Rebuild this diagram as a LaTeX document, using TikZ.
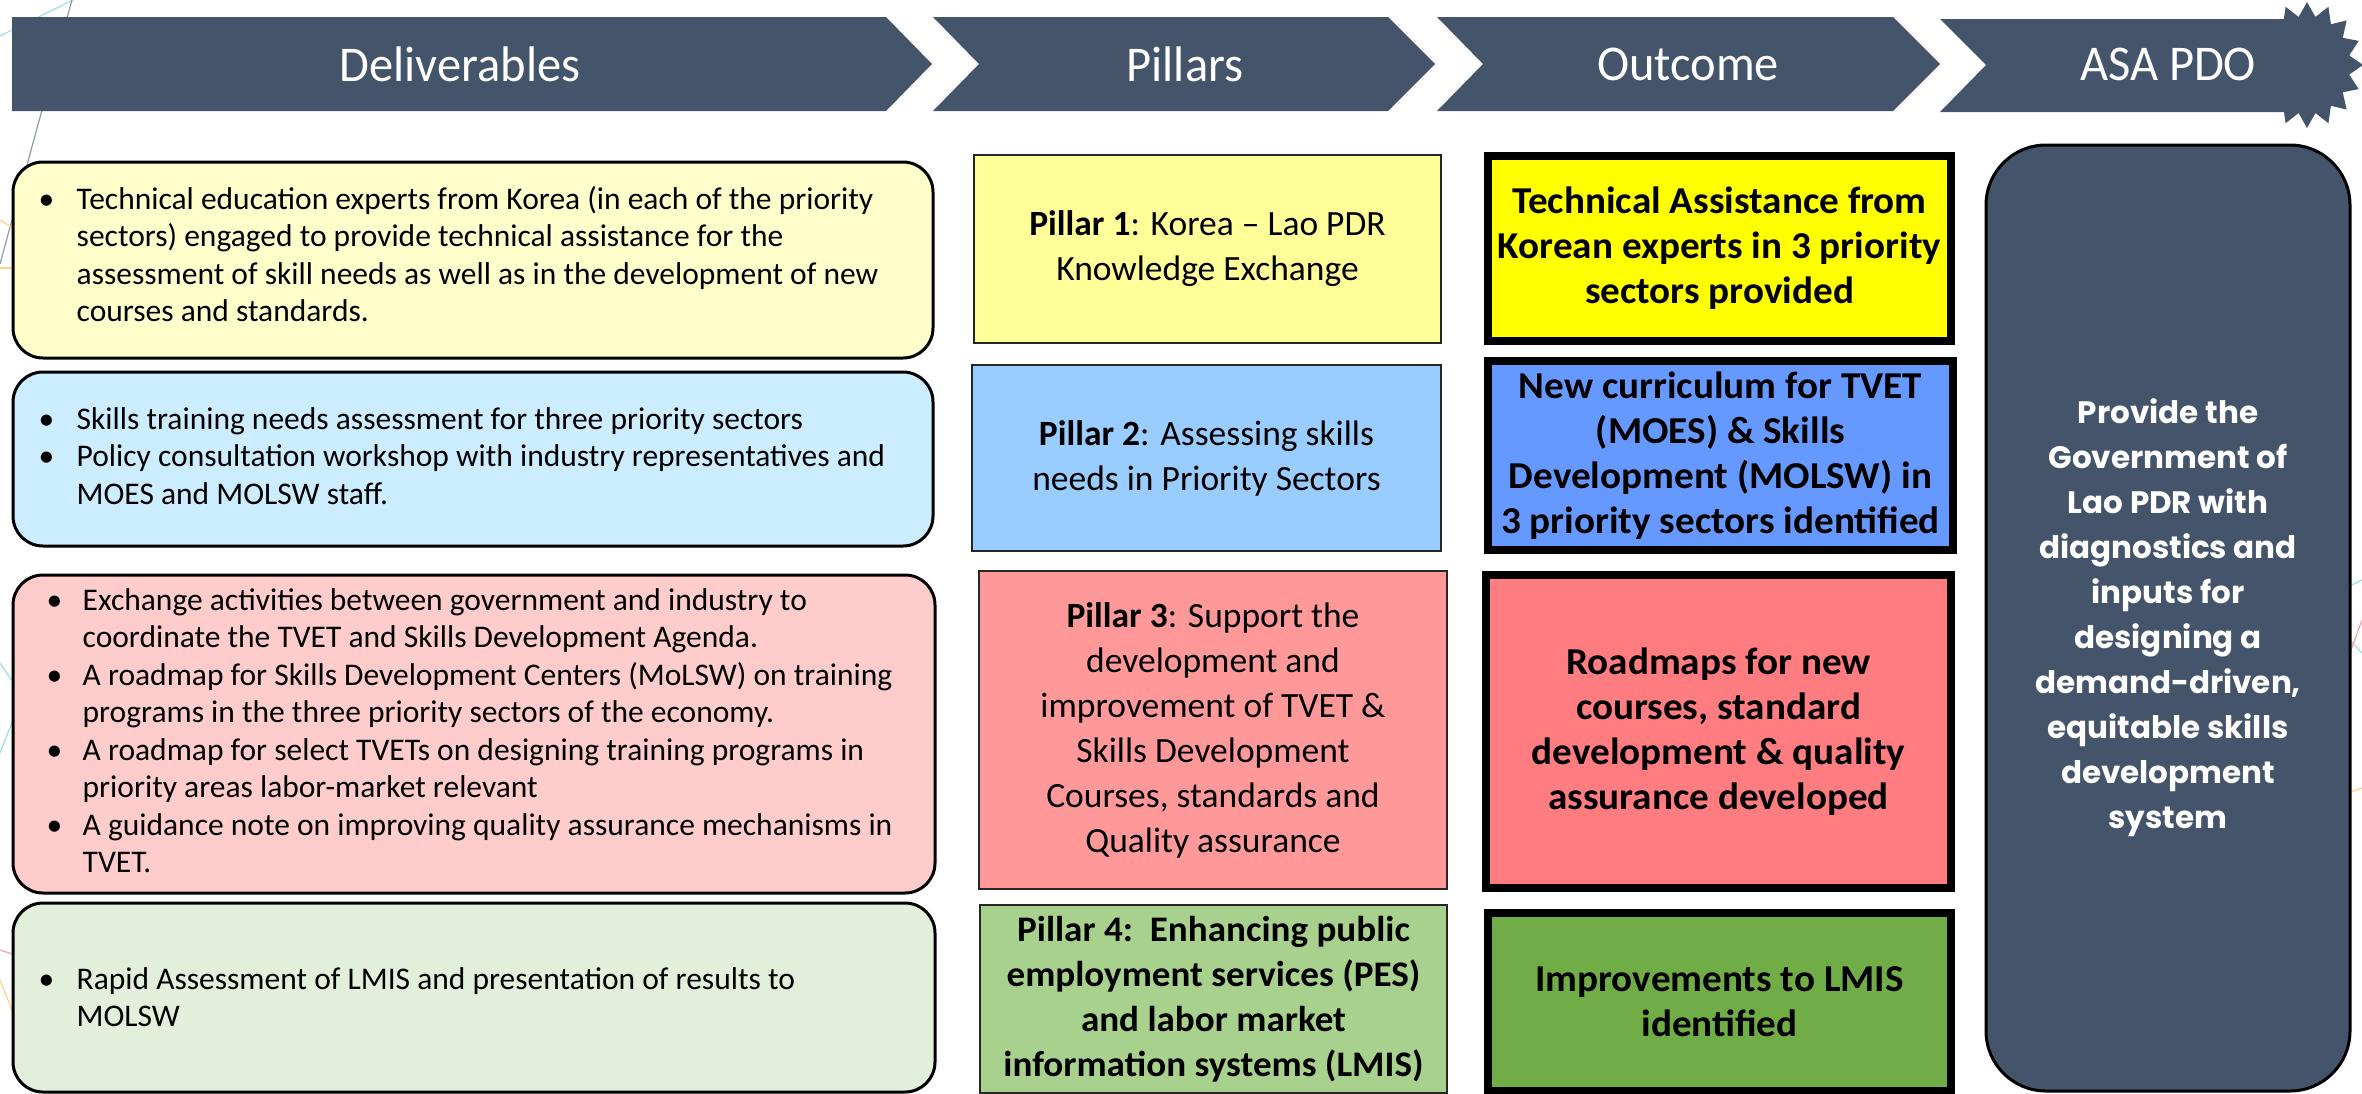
\documentclass[tikz,border=0pt]{standalone}
\usepackage{fontspec}
\setmainfont{Carlito}
\newfontfamily\outfont{Carlito}[FakeStretch=1.03]
\newfontfamily\hdrfont{Carlito}[FakeStretch=0.97]
\newfontfamily\pdofont{Poppins}
\definecolor{hdr}{HTML}{44546A}
\definecolor{dY}{HTML}{FFFFCC}
\definecolor{dB}{HTML}{CCECFF}
\definecolor{dR}{HTML}{FFCCCC}
\definecolor{dG}{HTML}{E2EFDA}
\definecolor{pY}{HTML}{FFFF99}
\definecolor{pB}{HTML}{99CCFF}
\definecolor{pR}{HTML}{FF9999}
\definecolor{pG}{HTML}{A9D18E}
\definecolor{oY}{HTML}{FFFF00}
\definecolor{oB}{HTML}{6699FF}
\definecolor{oR}{HTML}{FF7C80}
\definecolor{oG}{HTML}{70AD47}
\definecolor{bgBlue}{HTML}{9DDCF0}
\definecolor{bgGray}{HTML}{8E9AB0}
\definecolor{bgOrange}{HTML}{FFD27F}
\definecolor{bgPink}{HTML}{F4A0A8}
\begin{document}
\begin{tikzpicture}[x=1pt,y=-1pt,
  delbox/.style={draw=black, line width=3pt, rounded corners=30pt, inner sep=0pt},
  pilbox/.style={draw=black!85, line width=2.5pt, inner sep=0pt, align=center, font=\fontsize{35.5}{45}\selectfont},
  outbox/.style={draw=black, line width=8pt, inner sep=0pt, align=center, font=\outfont\bfseries\fontsize{38}{45}\selectfont},
  hdrshape/.style={fill=hdr},
  hdrtext/.style={text=white, font=\hdrfont\fontsize{50}{60}\selectfont, inner sep=0pt},
  bultext/.style={anchor=west, inner sep=0pt, font=\fontsize{31.5}{37.5}\selectfont},
  bgline/.style={line width=1.2pt}
]
\useasboundingbox (0,0) rectangle (2362,1093);
% faint background lines
\draw[bgline, bgBlue] (0,36) -- (73,0);
\draw[bgline, bgGray] (72,0) -- (0,264);
\draw[bgline, bgOrange] (0,220) -- (20,232);
\draw[bgline, bgOrange] (0,268) -- (20,268);
\draw[bgline, bgBlue] (0,663) -- (25,700);
\draw[bgline, bgBlue] (0,753) -- (25,690);
\draw[bgline, bgPink] (0,950) -- (25,958);
\draw[bgline, bgOrange] (0,980) -- (20,1030);
\draw[bgline, bgBlue] (2340,591) -- (2362,580);
\draw[bgline, bgBlue] (2340,630) -- (2362,653);
\draw[bgline, bgPink] (2340,680) -- (2362,620);
\draw[bgline, bgOrange] (2340,796) -- (2362,788);

% header chevrons
\fill[hdrshape] (12,17) -- (886,17) -- (932,64) -- (886,111) -- (12,111) -- cycle;
\fill[hdrshape] (933,17) -- (1388,17) -- (1435,64) -- (1388,111) -- (933,111) -- (979,64) -- cycle;
\fill[hdrshape] (1437,17) -- (1893,17) -- (1940,64) -- (1893,111) -- (1437,111) -- (1483,64) -- cycle;
\fill[hdrshape] (1940,19) -- (2290,19) -- (2290,112) -- (1940,112) -- (1986,65) -- cycle;
\fill[hdrshape]
  \foreach \i in {0,...,15} {
    \ifnum\i=0 (2307+56,65) \else -- ({2307+56*cos(\i*22.5)},{65+63*sin(\i*22.5)}) \fi
    -- ({2307+43*cos(\i*22.5+11.25)},{65+49*sin(\i*22.5+11.25)})
  } -- cycle;
\node[hdrtext] (hDel) at (460,64) {Deliverables};
\node[hdrtext] (hPil) at (1185,64) {Pillars};
\node[hdrtext] (hOut) at (1688,64) {Outcome};
\node[hdrtext] (hPdo) at (2168,64) {ASA PDO};

% deliverables
\node[delbox, fill=dY, minimum width=920pt, minimum height=196pt] (d1) at (473,260) {};
\node[delbox, fill=dB, minimum width=920pt, minimum height=174pt] (d2) at (473,459) {};
\node[delbox, fill=dR, minimum width=922pt, minimum height=318pt] (d3) at (474,734) {};
\node[delbox, fill=dG, minimum width=922pt, minimum height=189pt] (d4) at (474,997.5) {};

\node[bultext] (t1) at ([xshift=27pt,yshift=2pt]d1.west) {\begin{tabular}{@{}p{38pt}@{}l@{}}
\textbullet & Technical education experts from Korea (in each of the priority\\
 & sectors) engaged to provide technical assistance for the\\
 & assessment of skill needs as well as in the development of new\\
 & courses and standards.
\end{tabular}};
\node[bultext] (t2) at ([xshift=27pt]d2.west) {\begin{tabular}{@{}p{38pt}@{}l@{}}
\textbullet & Skills training needs assessment for three priority sectors\\
\textbullet & Policy consultation workshop with industry representatives and\\
 & MOES and MOLSW staff.
\end{tabular}};
\node[bultext] (t3) at ([xshift=35pt]d3.west) {\begin{tabular}{@{}p{36pt}@{}l@{}}
\textbullet & Exchange activities between government and industry to\\
 & coordinate the TVET and Skills Development Agenda.\\
\textbullet & A roadmap for Skills Development Centers (MoLSW) on training\\
 & programs in the three priority sectors of the economy.\\
\textbullet & A roadmap for select TVETs on designing training programs in\\
 & priority areas labor-market relevant\\
\textbullet & A guidance note on improving quality assurance mechanisms in\\
 & TVET.
\end{tabular}};
\node[bultext] (t4) at ([xshift=27pt,yshift=-3pt]d4.west) {\begin{tabular}{@{}p{38pt}@{}l@{}}
\textbullet & Rapid Assessment of LMIS and presentation of results to\\
 & MOLSW
\end{tabular}};

% pillars
\node[pilbox, fill=pY, minimum width=467pt, minimum height=188pt] (p1) at (1207.5,249)
  {\textbf{Pillar 1}: Korea -- Lao PDR\\Knowledge Exchange};
\node[pilbox, fill=pB, minimum width=469pt, minimum height=186pt] (p2) at (1206.5,458)
  {\textbf{Pillar 2}: Assessing skills\\needs in Priority Sectors};
\node[pilbox, fill=pR, minimum width=468pt, minimum height=318pt] (p3) at (1213,730)
  {\textbf{Pillar 3}: Support the\\development and\\improvement of TVET \&\\Skills Development\\Courses, standards and\\Quality assurance};
\node[pilbox, fill=pG, minimum width=467pt, minimum height=188pt, font=\outfont\bfseries\fontsize{36}{45}\selectfont] (p4) at (1213.5,999)
  {Pillar 4:\ \ Enhancing public\\employment services (PES)\\and labor market\\information systems (LMIS)};

% outcomes
\node[outbox, fill=oY, minimum width=463pt, minimum height=185pt] (o1) at (1719.5,248.5)
  {Technical Assistance from\\Korean experts in 3 priority\\sectors provided};
\node[outbox, fill=oB, minimum width=465pt, minimum height=189pt] (o2) at (1720.5,455.5)
  {New curriculum for TVET\\(MOES) \& Skills\\Development (MOLSW) in\\3 priority sectors identified};
\node[outbox, fill=oR, minimum width=465pt, minimum height=313pt] (o3) at (1718.5,731.5)
  {Roadmaps for new\\courses, standard\\development \& quality\\assurance developed};
\node[outbox, fill=oG, minimum width=463pt, minimum height=178pt] (o4) at (1719.5,1002)
  {Improvements to LMIS\\identified};

% PDO
\node[draw=black, line width=3pt, fill=hdr, rounded corners=60pt, minimum width=364pt, minimum height=946pt, inner sep=0pt,
  text=white, align=center, font=\pdofont\bfseries\fontsize{31}{45}\selectfont] (pdo) at (2168,618)
  {Provide the\\Government of\\Lao PDR with\\diagnostics and\\inputs for\\designing a\\demand-driven,\\equitable skills\\development\\system};
\end{tikzpicture}
\end{document}
